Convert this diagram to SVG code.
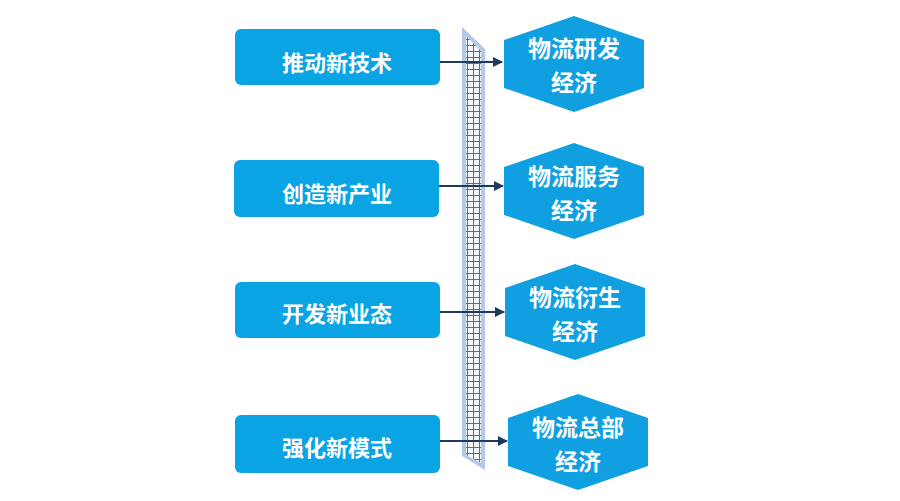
<svg xmlns="http://www.w3.org/2000/svg" width="900" height="501" viewBox="0 0 900 501">
<style>
.box{fill:#0aa3e3;}
.hex{fill:#109fe0;}
.t1{font-family:"Noto Sans CJK SC","Noto Sans",sans-serif;font-weight:bold;font-size:22px;fill:#ffffff;text-anchor:middle;dominant-baseline:central;}
.t2{font-family:"Noto Sans CJK SC","Noto Sans",sans-serif;font-weight:bold;font-size:23px;fill:#ffffff;text-anchor:middle;dominant-baseline:central;}
.grid line{stroke:#4d6dab;stroke-width:1;}
.conn line{stroke:#1f3a5f;stroke-width:2;marker-end:url(#arr);}
</style>
<defs>
<marker id="arr" viewBox="0 0 10 10" refX="9" refY="5" markerWidth="5" markerHeight="5" orient="auto" markerUnits="strokeWidth">
<path d="M0,0 L10,5 L0,10 Z" fill="#1f3a5f"/>
</marker>
<clipPath id="inner">
<polygon points="466,36 481,51 481,463 466,455"/>
</clipPath>
</defs>
<rect width="900" height="501" fill="#ffffff"/>
<g id="bar">
<polygon points="462,27 485,49 485,470 462,456" fill="#b2c9e8"/>
<polygon points="466,36 481,51 481,463 466,455" fill="#f4f8fd"/>
<g class="grid" clip-path="url(#inner)">
<line x1="467.5" y1="20" x2="467.5" y2="480"/>
<line x1="473.5" y1="20" x2="473.5" y2="480"/>
<line x1="479.5" y1="20" x2="479.5" y2="480"/>
<path d="M460 33.5H490M460 39.5H490M460 45.5H490M460 51.5H490M460 57.5H490M460 63.5H490M460 69.5H490M460 75.5H490M460 81.5H490M460 87.5H490M460 93.5H490M460 99.5H490M460 105.5H490M460 111.5H490M460 117.5H490M460 123.5H490M460 129.5H490M460 135.5H490M460 141.5H490M460 147.5H490M460 153.5H490M460 159.5H490M460 165.5H490M460 171.5H490M460 177.5H490M460 183.5H490M460 189.5H490M460 195.5H490M460 201.5H490M460 207.5H490M460 213.5H490M460 219.5H490M460 225.5H490M460 231.5H490M460 237.5H490M460 243.5H490M460 249.5H490M460 255.5H490M460 261.5H490M460 267.5H490M460 273.5H490M460 279.5H490M460 285.5H490M460 291.5H490M460 297.5H490M460 303.5H490M460 309.5H490M460 315.5H490M460 321.5H490M460 327.5H490M460 333.5H490M460 339.5H490M460 345.5H490M460 351.5H490M460 357.5H490M460 363.5H490M460 369.5H490M460 375.5H490M460 381.5H490M460 387.5H490M460 393.5H490M460 399.5H490M460 405.5H490M460 411.5H490M460 417.5H490M460 423.5H490M460 429.5H490M460 435.5H490M460 441.5H490M460 447.5H490M460 453.5H490M460 459.5H490" stroke="#4d6dab" stroke-width="1" fill="none"/>
</g>
</g>
<g id="n1"><rect class="box" x="235" y="29" width="205" height="56" rx="6"/><text class="t1" x="337" y="61">推动新技术</text></g>
<g id="n2"><rect class="box" x="234" y="160" width="205" height="57" rx="6"/><text class="t1" x="337" y="192">创造新产业</text></g>
<g id="n3"><rect class="box" x="235" y="282" width="205" height="56" rx="6"/><text class="t1" x="337" y="312">开发新业态</text></g>
<g id="n4"><rect class="box" x="235" y="415" width="205" height="58" rx="6"/><text class="t1" x="337" y="446">强化新模式</text></g>
<g id="h1"><polygon class="hex" points="574,16 644,40 644,88 574,112 504,88 504,40"/><text class="t2"><tspan x="574" y="47">物流研发</tspan><tspan x="574" y="81">经济</tspan></text></g>
<g id="h2"><polygon class="hex" points="574,143 644,167 644,215 574,239 504,215 504,167"/><text class="t2"><tspan x="574" y="175">物流服务</tspan><tspan x="574" y="209">经济</tspan></text></g>
<g id="h3"><polygon class="hex" points="575,264 645,288 645,336 575,360 505,336 505,288"/><text class="t2"><tspan x="575" y="296">物流衍生</tspan><tspan x="575" y="330">经济</tspan></text></g>
<g id="h4"><polygon class="hex" points="578,394 648,418 648,466 578,490 508,466 508,418"/><text class="t2"><tspan x="578" y="426">物流总部</tspan><tspan x="578" y="460">经济</tspan></text></g>
<g id="connectors" class="conn">
<line x1="440" y1="62" x2="502" y2="62"/>
<line x1="439" y1="186" x2="503" y2="186"/>
<line x1="440" y1="312" x2="504" y2="312"/>
<line x1="440" y1="441" x2="507" y2="441"/>
</g>
</svg>
